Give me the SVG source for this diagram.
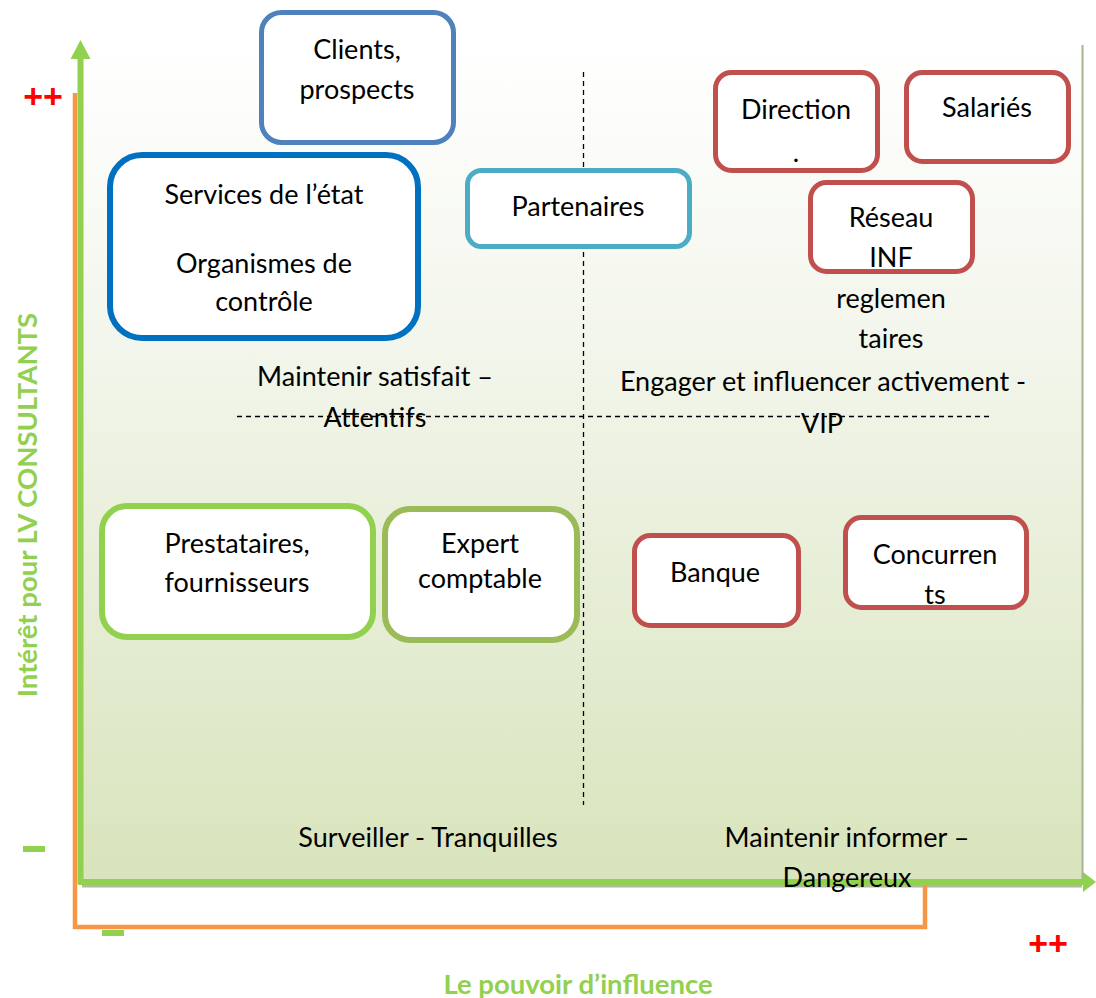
<svg xmlns="http://www.w3.org/2000/svg" width="1096" height="998" viewBox="0 0 1096 998">
<defs>
<linearGradient id="bg" x1="0" y1="0" x2="0" y2="1">
<stop offset="0" stop-color="#ffffff"/>
<stop offset="0.35" stop-color="#f3f6ec"/>
<stop offset="1" stop-color="#d8e4bc"/>
</linearGradient>
<style>
text{font-family:Lato,"Liberation Sans",sans-serif;font-size:27px;fill:#000;text-anchor:middle}
.box{fill:#fff}
.red{stroke:#c0504d;stroke-width:5}
.dash{stroke:#000;stroke-width:1.3;stroke-dasharray:5 4;fill:none}
.plus{fill:#ff0000;font-weight:bold;font-size:34px;font-family:"Liberation Sans",sans-serif}
.axlab{fill:#92d050;font-weight:bold;font-size:27.5px}
</style>
</defs>
<rect x="80" y="45" width="1003" height="838" fill="url(#bg)"/>
<line x1="1082.5" y1="45" x2="1082.5" y2="884" stroke="#a5b592" stroke-width="2"/>
<line x1="82" y1="886" x2="1082" y2="886" stroke="#b0b8a0" stroke-width="3"/>
<g id="connectors">
<line class="dash" x1="583.5" y1="72" x2="583.5" y2="805"/>
<line class="dash" x1="237" y1="416.5" x2="993" y2="416.5"/>
<polyline points="75,93 75,927 925,927 925,884" fill="none" stroke="#f79646" stroke-width="4.5"/>
<line x1="80.5" y1="58" x2="80.5" y2="884" stroke="#92d050" stroke-width="6"/>
<polygon points="80.5,40 70.5,59 90.5,59" fill="#92d050"/>
<line x1="78" y1="882" x2="1084" y2="882" stroke="#92d050" stroke-width="6"/>
<polygon points="1096,882 1083,872 1083,892" fill="#92d050"/>
</g>
<text class="plus" x="43" y="108">++</text>
<text class="plus" x="1048" y="955">++</text>
<rect x="23" y="846" width="22" height="6" fill="#92d050"/>
<rect x="102" y="930" width="22" height="6" fill="#92d050"/>
<text class="axlab" x="578" y="994">Le pouvoir d’influence</text>
<text class="axlab" transform="translate(37,505) rotate(-90)">Intérêt pour  LV CONSULTANTS</text>

<g id="clients"><rect class="box" x="261.5" y="12.5" width="192" height="130" rx="20" stroke="#4f81bd" stroke-width="5"/>
<text x="357" y="59">Clients,</text><text x="357" y="99">prospects</text></g>
<g id="services"><rect class="box" x="110" y="155" width="308" height="183" rx="32" stroke="#0070c0" stroke-width="6"/>
<text x="264" y="204">Services de l’état</text><text x="264" y="273">Organismes de</text><text x="264" y="311">contrôle</text></g>
<g id="partenaires"><rect class="box" x="467.5" y="170.5" width="222" height="76" rx="14" stroke="#4bacc6" stroke-width="5"/>
<text x="578" y="216">Partenaires</text></g>
<g id="direction"><rect class="box red" x="715.5" y="72.5" width="162" height="98" rx="16"/>
<text x="796" y="119">Direction</text><text x="796" y="162">.</text></g>
<g id="salaries"><rect class="box red" x="906.5" y="72.5" width="162" height="89" rx="16"/>
<text x="987" y="117">Salariés</text></g>
<g id="reseau"><rect class="box red" x="810.5" y="182.5" width="162" height="89" rx="16"/>
<text x="891" y="227">Réseau</text><text x="891" y="267">INF</text><text x="891" y="308">reglemen</text><text x="891" y="348">taires</text></g>
<g id="prestataires"><rect class="box" x="102" y="506" width="271" height="131" rx="25" stroke="#92d050" stroke-width="6"/>
<text x="237" y="553">Prestataires,</text><text x="237" y="592">fournisseurs</text></g>
<g id="expert"><rect class="box" x="385" y="509" width="192" height="131" rx="25" stroke="#9bbb59" stroke-width="6"/>
<text x="480" y="553">Expert</text><text x="480" y="588">comptable</text></g>
<g id="banque"><rect class="box red" x="634.5" y="535.5" width="164" height="90" rx="16"/>
<text x="715" y="582">Banque</text></g>
<g id="concurrents"><rect class="box red" x="845.5" y="517.5" width="181" height="90" rx="16"/>
<text x="935" y="564">Concurren</text><text x="935" y="604">ts</text></g>

<text x="375" y="386">Maintenir satisfait –</text>
<text x="375" y="427">Attentifs</text>
<text x="823" y="391">Engager et influencer activement -</text>
<text x="822" y="433">VIP</text>
<text x="428" y="847">Surveiller - Tranquilles</text>
<text x="847" y="847">Maintenir informer –</text>
<text x="847" y="887">Dangereux</text>
</svg>
